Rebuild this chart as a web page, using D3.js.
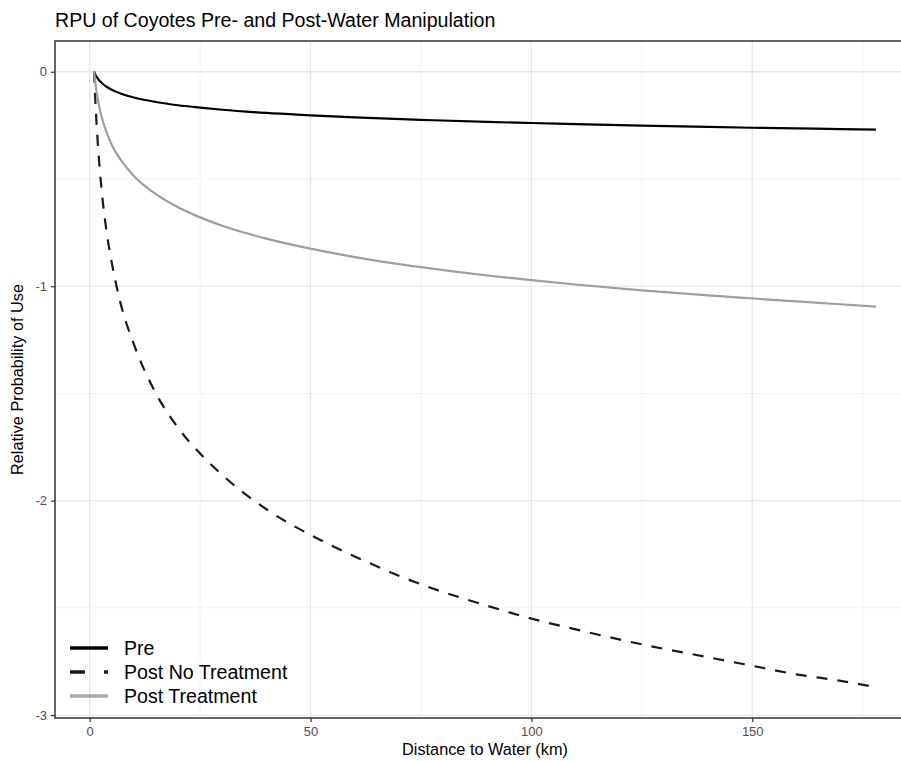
<!DOCTYPE html>
<html>
<head>
<meta charset="utf-8">
<script src="https://cdn.jsdelivr.net/npm/d3@7"></script>
<style>
  body { margin: 0; background: #fff; }
  svg { display: block; font-family: "Liberation Sans", Arial, sans-serif; }
</style>
</head>
<body>
<svg width="901" height="761"></svg>
<script>
// distances (km)
const distance = [1, 1.25, 1.5, 2, 3, 4, 5, 7, 10, 15, 20, 25, 30, 40, 50, 60, 75, 90, 100, 110, 125, 140, 150, 160, 170, 178];

// relative probability of use, one array per series
const pre = [0, -0.012, -0.021, -0.036, -0.057, -0.072, -0.084, -0.101, -0.12, -0.141, -0.156, -0.167, -0.177, -0.192, -0.203, -0.213, -0.224, -0.234, -0.239, -0.244, -0.251, -0.257, -0.261, -0.264, -0.267, -0.27];
const postNoTreatment = [0, -0.12, -0.22, -0.38, -0.61, -0.77, -0.89, -1.08, -1.27, -1.50, -1.66, -1.78, -1.88, -2.04, -2.16, -2.26, -2.39, -2.49, -2.55, -2.60, -2.67, -2.73, -2.77, -2.81, -2.84, -2.87];
const postTreatment = [0, -0.047, -0.086, -0.146, -0.232, -0.292, -0.34, -0.41, -0.486, -0.571, -0.632, -0.679, -0.718, -0.778, -0.825, -0.864, -0.911, -0.95, -0.972, -0.992, -1.019, -1.043, -1.057, -1.071, -1.084, -1.095];

const xTicks = [0, 50, 100, 150];
const xMinor = [25, 75, 125, 175];
const yTicks = [0, -1, -2, -3];
const yMinor = [-0.5, -1.5, -2.5];

const seriesNames = ["Pre", "Post No Treatment", "Post Treatment"];
const seriesValues = [pre, postNoTreatment, postTreatment];

const styles = {
  "Pre": { color: "#000000", dash: null, keyDash: null },
  "Post No Treatment": { color: "#1a1a1a", dash: "11,10", keyDash: "15,19" },
  "Post Treatment": { color: "#9e9e9e", dash: null, keyDash: null }
};

const svg = d3.select("svg");
const panel = { left: 55, top: 41, right: 915, bottom: 718 };

// ggplot-like 5% expansion
const xExt = d3.extent(distance);
const xPad = (xExt[1] - xExt[0]) * 0.05;
const x = d3.scaleLinear()
  .domain([xExt[0] - xPad, xExt[1] + xPad])
  .range([panel.left, panel.right]);

const allY = [].concat(pre, postNoTreatment, postTreatment);
const yExt = d3.extent(allY);
const yPad = (yExt[1] - yExt[0]) * 0.05;
const y = d3.scaleLinear()
  .domain([yExt[0] - yPad, yExt[1] + yPad])
  .range([panel.bottom, panel.top]);

// grid
const grid = svg.append("g");
grid.selectAll(".xminor").data(xMinor).enter().append("line")
  .attr("x1", d => x(d)).attr("x2", d => x(d))
  .attr("y1", panel.top).attr("y2", panel.bottom)
  .attr("stroke", "#f2f2f2").attr("stroke-width", 1);
grid.selectAll(".yminor").data(yMinor).enter().append("line")
  .attr("x1", panel.left).attr("x2", panel.right)
  .attr("y1", d => y(d)).attr("y2", d => y(d))
  .attr("stroke", "#f2f2f2").attr("stroke-width", 1);
grid.selectAll(".xmajor").data(xTicks).enter().append("line")
  .attr("x1", d => x(d)).attr("x2", d => x(d))
  .attr("y1", panel.top).attr("y2", panel.bottom)
  .attr("stroke", "#e8e8e8").attr("stroke-width", 1.3);
grid.selectAll(".ymajor").data(yTicks).enter().append("line")
  .attr("x1", panel.left).attr("x2", panel.right)
  .attr("y1", d => y(d)).attr("y2", d => y(d))
  .attr("stroke", "#e8e8e8").attr("stroke-width", 1.3);

// lines
const line = d3.line()
  .x(d => x(d[0]))
  .y(d => y(d[1]))
  .curve(d3.curveMonotoneX);

seriesNames.forEach(function(name, i) {
  const pts = distance.map((dd, j) => [dd, seriesValues[i][j]]);
  svg.append("path")
    .datum(pts)
    .attr("fill", "none")
    .attr("stroke", styles[name].color)
    .attr("stroke-width", 2.2)
    .attr("stroke-dasharray", styles[name].dash)
    .attr("d", line);
});

// panel border
svg.append("rect")
  .attr("x", panel.left).attr("y", panel.top)
  .attr("width", panel.right - panel.left).attr("height", panel.bottom - panel.top)
  .attr("fill", "none").attr("stroke", "#333").attr("stroke-width", 1.5);

// axes
const xAxis = svg.append("g")
  .attr("transform", `translate(0,${panel.bottom})`)
  .call(d3.axisBottom(x).tickValues(xTicks).tickFormat(d => String(d)).tickSize(4).tickPadding(5));
const yAxis = svg.append("g")
  .attr("transform", `translate(${panel.left},0)`)
  .call(d3.axisLeft(y).tickValues(yTicks).tickFormat(d => String(d)).tickSize(4).tickPadding(4));

[xAxis, yAxis].forEach(function(a) {
  a.select(".domain").remove();
  a.selectAll(".tick line").attr("stroke", "#333").attr("stroke-width", 1.2);
  a.selectAll(".tick text")
    .attr("fill", "#4d4d4d")
    .style("font-size", "13px")
    .style("font-family", "'Liberation Sans', Arial, sans-serif");
});

// titles
svg.append("text")
  .attr("x", panel.left).attr("y", 27)
  .style("font-size", "19.6px")
  .attr("fill", "#000")
  .text("RPU of Coyotes Pre- and Post-Water Manipulation");

svg.append("text")
  .attr("x", (panel.left + panel.right) / 2).attr("y", 755)
  .attr("text-anchor", "middle")
  .style("font-size", "16.3px")
  .text("Distance to Water (km)");

svg.append("text")
  .attr("transform", `translate(23,${(panel.top + panel.bottom) / 2}) rotate(-90)`)
  .attr("text-anchor", "middle")
  .style("font-size", "16.3px")
  .text("Relative Probability of Use");

// legend
const legend = svg.append("g").attr("transform", "translate(70,648)");
seriesNames.forEach(function(name, i) {
  const g = legend.append("g").attr("transform", `translate(0,${i * 24})`);
  g.append("line")
    .attr("x1", 0).attr("x2", 38)
    .attr("y1", 0).attr("y2", 0)
    .attr("stroke", name === "Post Treatment" ? "#a8a8a8" : styles[name].color)
    .attr("stroke-width", 3.4)
    .attr("stroke-dasharray", styles[name].keyDash);
  g.append("text")
    .attr("x", 54).attr("y", 7)
    .style("font-size", "19.6px")
    .text(name);
});
</script>
</body>
</html>
